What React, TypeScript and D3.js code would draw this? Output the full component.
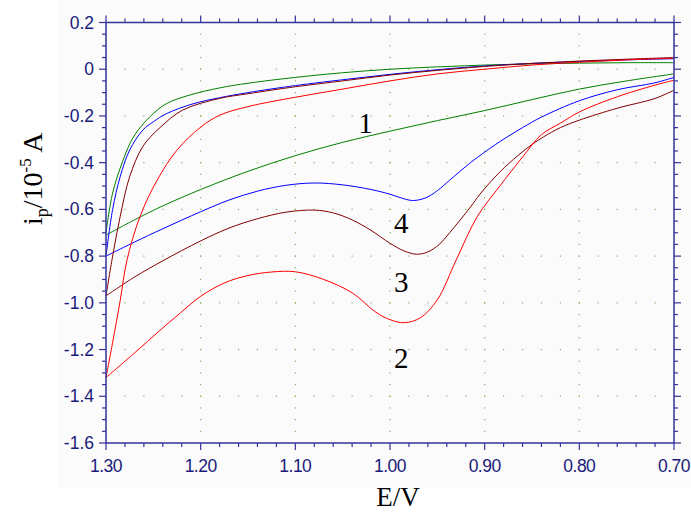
import React from "react";
import * as d3 from "d3";

type P = [number, number];

// x tick labels (E/V), y tick labels (i_p / 1e-5 A)
const xTicks = [1.3, 1.2, 1.1, 1.0, 0.9, 0.8, 0.7];
const yTicks = [0.2, 0, -0.2, -0.4, -0.6, -0.8, -1.0, -1.2, -1.4, -1.6];

// curve 1 (green)
const c1Lower: P[] = [
  [1.3, -0.71], [1.27, -0.645], [1.24, -0.585], [1.2, -0.515], [1.15, -0.437], [1.1, -0.37],
  [1.05, -0.313], [1.0, -0.265], [0.95, -0.22], [0.9, -0.177], [0.85, -0.13], [0.8, -0.085],
  [0.75, -0.05], [0.7, -0.02],
];
const c1Upper: P[] = [
  [1.3, -0.70], [1.293, -0.53], [1.282, -0.39], [1.271, -0.29], [1.254, -0.205], [1.236, -0.147],
  [1.211, -0.11], [1.18, -0.08], [1.15, -0.06], [1.1, -0.035], [1.05, -0.015], [1.0, 0.0],
  [0.95, 0.01], [0.9, 0.018], [0.85, 0.023], [0.8, 0.026], [0.75, 0.028], [0.7, 0.028],
];

// curve 4 (blue)
const c4Lower: P[] = [
  [1.3, -0.80], [1.27, -0.74], [1.24, -0.683], [1.2, -0.61], [1.17, -0.56], [1.14, -0.522],
  [1.11, -0.497], [1.08, -0.487], [1.05, -0.495], [1.02, -0.515], [1.0, -0.535], [0.985, -0.555],
  [0.975, -0.562], [0.962, -0.55], [0.95, -0.52], [0.937, -0.475], [0.915, -0.40], [0.9, -0.355],
  [0.884, -0.31], [0.86, -0.25], [0.84, -0.205], [0.8, -0.135], [0.76, -0.088], [0.72, -0.058],
  [0.7, -0.035],
];
const c4Upper: P[] = [
  [1.3, -0.80], [1.293, -0.60], [1.285, -0.46], [1.275, -0.346], [1.261, -0.26], [1.25, -0.225],
  [1.236, -0.19], [1.208, -0.148], [1.18, -0.122], [1.15, -0.10], [1.1, -0.07], [1.05, -0.045],
  [1.0, -0.022], [0.95, -0.002], [0.9, 0.014], [0.85, 0.025], [0.8, 0.033], [0.75, 0.04],
  [0.7, 0.045],
];

// curve 3 (dark red)
const c3Lower: P[] = [
  [1.3, -0.97], [1.27, -0.89], [1.24, -0.82], [1.2, -0.735], [1.17, -0.68], [1.14, -0.64],
  [1.11, -0.612], [1.08, -0.603], [1.06, -0.615], [1.04, -0.645], [1.02, -0.69], [1.0, -0.745],
  [0.985, -0.778], [0.972, -0.792], [0.96, -0.782], [0.948, -0.75], [0.937, -0.70], [0.915, -0.59],
  [0.905, -0.535], [0.884, -0.44], [0.865, -0.37], [0.85, -0.322], [0.838, -0.29], [0.82, -0.25],
  [0.8, -0.218], [0.76, -0.167], [0.72, -0.125], [0.7, -0.09],
];
const c3Upper: P[] = [
  [1.3, -0.97], [1.293, -0.80], [1.285, -0.63], [1.275, -0.46], [1.261, -0.33], [1.243, -0.25],
  [1.219, -0.175], [1.18, -0.125], [1.15, -0.105], [1.1, -0.075], [1.05, -0.05], [1.0, -0.025],
  [0.95, -0.005], [0.9, 0.012], [0.85, 0.025], [0.8, 0.035], [0.75, 0.043], [0.7, 0.05],
];

// curve 2 (red)
const c2Lower: P[] = [
  [1.3, -1.32], [1.27, -1.215], [1.243, -1.118], [1.222, -1.045], [1.2, -0.972], [1.175, -0.915],
  [1.15, -0.883], [1.125, -0.868], [1.1, -0.867], [1.07, -0.90], [1.04, -0.957], [1.015, -1.04],
  [1.0, -1.072], [0.985, -1.085], [0.968, -1.064], [0.95, -0.987], [0.93, -0.816], [0.908, -0.632],
  [0.884, -0.50], [0.86, -0.376], [0.84, -0.28], [0.82, -0.231], [0.8, -0.183], [0.76, -0.118],
  [0.72, -0.068], [0.7, -0.047],
];
const c2Upper: P[] = [
  [1.3, -1.32], [1.293, -1.17], [1.285, -0.99], [1.278, -0.82], [1.264, -0.63], [1.246, -0.475],
  [1.225, -0.346], [1.2, -0.248], [1.18, -0.197], [1.15, -0.16], [1.1, -0.12], [1.05, -0.085],
  [1.0, -0.05], [0.95, -0.02], [0.9, 0.0], [0.85, 0.018], [0.8, 0.03], [0.75, 0.04], [0.7, 0.047],
];

const series = [
  { name: "1", color: "#008000", lower: c1Lower, upper: c1Upper },
  { name: "4", color: "#0000ff", lower: c4Lower, upper: c4Upper },
  { name: "3", color: "#800000", lower: c3Lower, upper: c3Upper },
  { name: "2", color: "#ff0000", lower: c2Lower, upper: c2Upper },
];

const curveLabels: { text: string; e: number; v: number }[] = [
  { text: "1", e: 1.026, v: -0.273 },
  { text: "4", e: 0.988, v: -0.701 },
  { text: "3", e: 0.988, v: -0.955 },
  { text: "2", e: 0.988, v: -1.279 },
];

const W = 691;
const H = 512;
const axisColor = "#33339a";
const labelColor = "#1a1a7a";
const dotColor = "#86b060";

export default function App() {
  const x = d3.scaleLinear().domain([1.3, 0.7]).range([106, 674]);
  const y = d3.scaleLinear().domain([0.2, -1.6]).range([22.5, 443]);
  const line = d3
    .line<P>()
    .x((d) => x(d[0]))
    .y((d) => y(d[1]))
    .curve(d3.curveCatmullRom.alpha(0.5));

  const [x0, x1] = x.range();
  const [y0, y1] = y.range();

  const xMinor = d3.range(0, 31).map((i) => 1.3 - i * 0.02);
  const yMinor = d3.range(0, 37).map((i) => 0.2 - i * 0.05);
  const xMajorInner = xTicks.slice(1, -1);
  const yMajorInner = yTicks.slice(1, -1);

  const dots: { cx: number; cy: number }[] = [];
  yMajorInner.forEach((v) =>
    xMinor.slice(1, -1).forEach((e) => dots.push({ cx: x(e), cy: y(v) }))
  );
  xMajorInner.forEach((e) =>
    yMinor.slice(1, -1).forEach((v) => dots.push({ cx: x(e), cy: y(v) }))
  );

  const isMajorX = (e: number) => xTicks.some((t) => Math.abs(t - e) < 1e-6);
  const isMajorY = (v: number) => yTicks.some((t) => Math.abs(t - v) < 1e-6);

  return (
    <svg
      width={W}
      height={H}
      style={{ position: "absolute", left: 0, top: 0, background: "#ffffff" }}
    >
      <rect x={58} y={0} width={633} height={488} fill="#fbfbfb" />
      {dots.map((d, i) => (
        <rect key={i} x={d.cx - 0.6} y={d.cy - 0.6} width={1.2} height={1.2} fill={dotColor} />
      ))}
      {series.map((s) => (
        <g key={s.name} fill="none" stroke={s.color} strokeWidth={1}>
          <path d={line(s.lower) || ""} />
          <path d={line(s.upper) || ""} />
        </g>
      ))}
      {/* frame */}
      <rect x={x0} y={y0} width={x1 - x0} height={y1 - y0} fill="none" stroke={axisColor} strokeWidth={1.5} />
      {xMinor.map((e, i) => {
        const len = isMajorX(e) ? 7 : 4;
        const px = x(e);
        return (
          <g key={"xt" + i} stroke={axisColor} strokeWidth={1.2}>
            <line x1={px} x2={px} y1={y1} y2={y1 + len} />
            <line x1={px} x2={px} y1={y0} y2={y0 - len} />
          </g>
        );
      })}
      {yMinor.map((v, i) => {
        const len = isMajorY(v) ? 7 : 4;
        const py = y(v);
        return (
          <g key={"yt" + i} stroke={axisColor} strokeWidth={1.2}>
            <line x1={x0} x2={x0 - len} y1={py} y2={py} />
            <line x1={x1} x2={x1 + len} y1={py} y2={py} />
          </g>
        );
      })}
      {xTicks.map((e) => (
        <text
          key={"xl" + e}
          x={x(e)}
          y={472}
          textAnchor="middle"
          fontFamily="'Liberation Sans', Arial, sans-serif"
          fontSize={17.5}
          fill={labelColor}
          letterSpacing={-0.5}
        >
          {e.toFixed(2)}
        </text>
      ))}
      {yTicks.map((v) => (
        <text
          key={"yl" + v}
          x={94}
          y={y(v) + 6}
          textAnchor="end"
          fontFamily="'Liberation Sans', Arial, sans-serif"
          fontSize={17.5}
          fill={labelColor}
        >
          {v === 0 ? "0" : v.toFixed(1)}
        </text>
      ))}
      {curveLabels.map((l) => (
        <text
          key={"cl" + l.text}
          x={x(l.e)}
          y={y(l.v)}
          textAnchor="middle"
          fontFamily="'Liberation Serif', 'Times New Roman', serif"
          fontSize={29}
          fill="#000"
        >
          {l.text}
        </text>
      ))}
      <text
        x={398}
        y={506}
        textAnchor="middle"
        fontFamily="'Liberation Serif', 'Times New Roman', serif"
        fontSize={27}
        fill="#000"
      >
        E/V
      </text>
      <text
        transform="translate(42,225) rotate(-90)"
        textAnchor="start"
        fontFamily="'Liberation Serif', 'Times New Roman', serif"
        fontSize={28}
        fill="#000"
      >
        i
        <tspan fontSize={18} dy={6}>p</tspan>
        <tspan dy={-6}>/10</tspan>
        <tspan fontSize={17} dy={-11}>-5</tspan>
        <tspan dy={11}> A</tspan>
      </text>
    </svg>
  );
}
